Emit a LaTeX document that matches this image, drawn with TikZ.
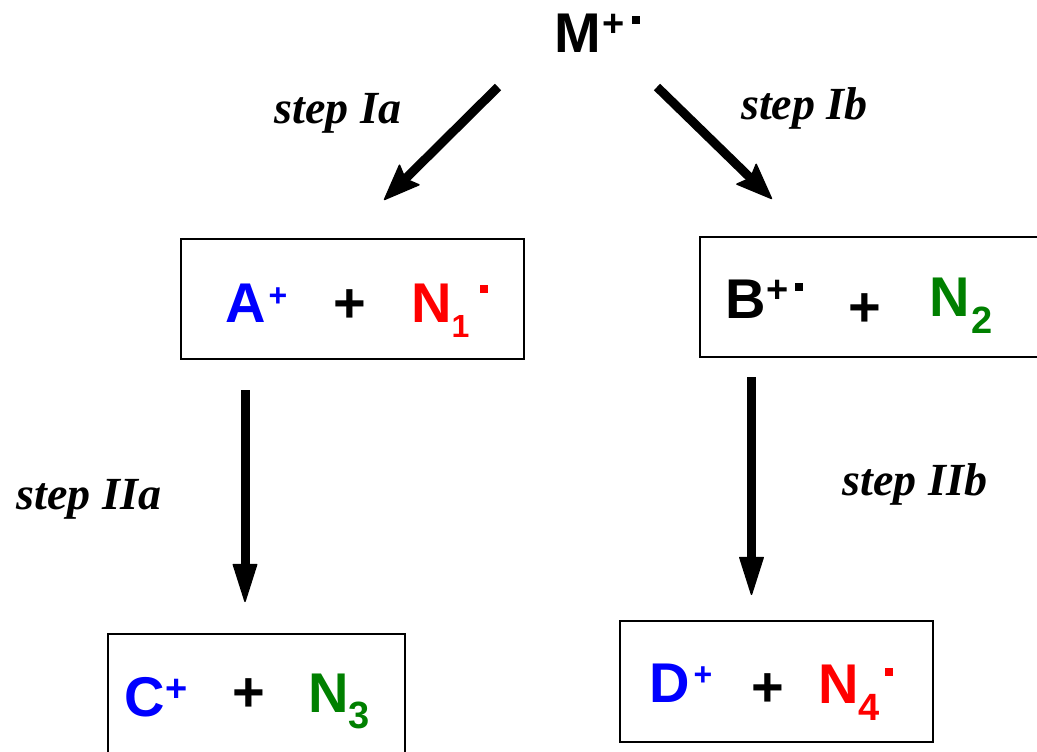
\documentclass[tikz,border=0pt]{standalone}
\usepackage{fontspec}
\setmainfont{Liberation Sans}
\newfontfamily\timesf{Liberation Serif}
\usetikzlibrary{arrows.meta}
\definecolor{cblue}{RGB}{0,0,255}
\definecolor{cred}{RGB}{255,0,0}
\definecolor{cgreen}{RGB}{0,128,0}
\begin{document}
\begin{tikzpicture}[x=1pt,y=-1pt,
 box/.style={draw, line width=2.5pt, inner sep=0},
 big/.style={font=\fontsize{56}{60}\selectfont\bfseries, inner sep=0, anchor=base},
 small/.style={font=\fontsize{32}{36}\selectfont\bfseries, inner sep=0, anchor=base},
 mid/.style={font=\fontsize{38}{42}\selectfont\bfseries, inner sep=0, anchor=base},
 raddot/.style={fill, minimum size=8pt, inner sep=0},
 lbl/.style={font=\fontsize{46}{50}\selectfont\timesf\bfseries\itshape, inner sep=0, anchor=base},
 arr/.style={line width=9pt, -{Triangle[length=40pt,width=25pt,line width=1.5pt,round]}},
 darr/.style={line width=9pt, -{Stealth[length=38pt,width=30pt,inset=6pt,line width=1.5pt,round]}}
]
\useasboundingbox (0,0) rectangle (1037,752);

% boxes
\node[box, minimum width=343pt, minimum height=120pt] (boxA) at (352.5,299) {};
\node[box, minimum width=344pt, minimum height=120pt] (boxB) at (872,297) {};
\node[box, minimum width=297pt, minimum height=125pt] (boxC) at (256.5,696.5) {};
\node[box, minimum width=313pt, minimum height=121pt] (boxD) at (776.5,681.5) {};

% M+.
\node[big] (M) at (578,53) {M};
\node[mid] (Mp) at (614,37) {+};
\node[raddot] (Md) at (636,20) {};

% A+ + N1.
\node[big, text=cblue] (A) at (245.5,322) {A};
\node[small, text=cblue] (Ap) at (278,306) {+};
\node[big] (Aplus) at (350,322) {+};
\node[big, text=cred] (N1) at (431.5,322) {N};
\node[small, text=cred] (N1s) at (460.5,337) {1};
\node[raddot, fill=cred] (N1d) at (483.5,289) {};

% B+. + N2
\node[big] (B) at (746,318) {B};
\node[mid] (Bp) at (777.5,302) {+};
\node[raddot] (Bd) at (798.5,286.5) {};
\node[big] (Bplus) at (865,326) {+};
\node[big, text=cgreen] (N2) at (950,316) {N};
\node[mid, text=cgreen] (N2s) at (982.5,333) {2};

% C+ + N3
\node[big, text=cblue] (C) at (145,716) {C};
\node[mid, text=cblue] (Cp) at (177,701) {+};
\node[big] (Cplus) at (249,711) {+};
\node[big, text=cgreen] (N3) at (328.5,712) {N};
\node[mid, text=cgreen] (N3s) at (359.5,728) {3};

% D+ + N4.
\node[big, text=cblue] (D) at (669.5,702) {D};
\node[small, text=cblue] (Dp) at (703,685) {+};
\node[big] (Dplus) at (768,706) {+};
\node[big, text=cred] (N4) at (838.5,703) {N};
\node[mid, text=cred] (N4s) at (869,720) {4};
\node[raddot, fill=cred] (N4d) at (889,671.5) {};

% labels
\node[lbl] (l1) at (338,124) {step Ia};
\node[lbl] (l2) at (804.5,119) {step Ib};
\node[lbl] (l3) at (89,509) {step IIa};
\node[lbl] (l4) at (915,495) {step IIb};

% arrows
\coordinate (a1s) at (498,87);  \coordinate (a1e) at (384,200);
\coordinate (b1s) at (657,87);  \coordinate (b1e) at (772,199);
\coordinate (a2s) at (245,390); \coordinate (a2e) at (245,602);
\coordinate (b2s) at (751.5,377); \coordinate (b2e) at (751.5,595);
\draw[darr] (a1s) -- (a1e);
\draw[darr] (b1s) -- (b1e);
\draw[arr] (a2s) -- (a2e);
\draw[arr] (b2s) -- (b2e);
\end{tikzpicture}
\end{document}
